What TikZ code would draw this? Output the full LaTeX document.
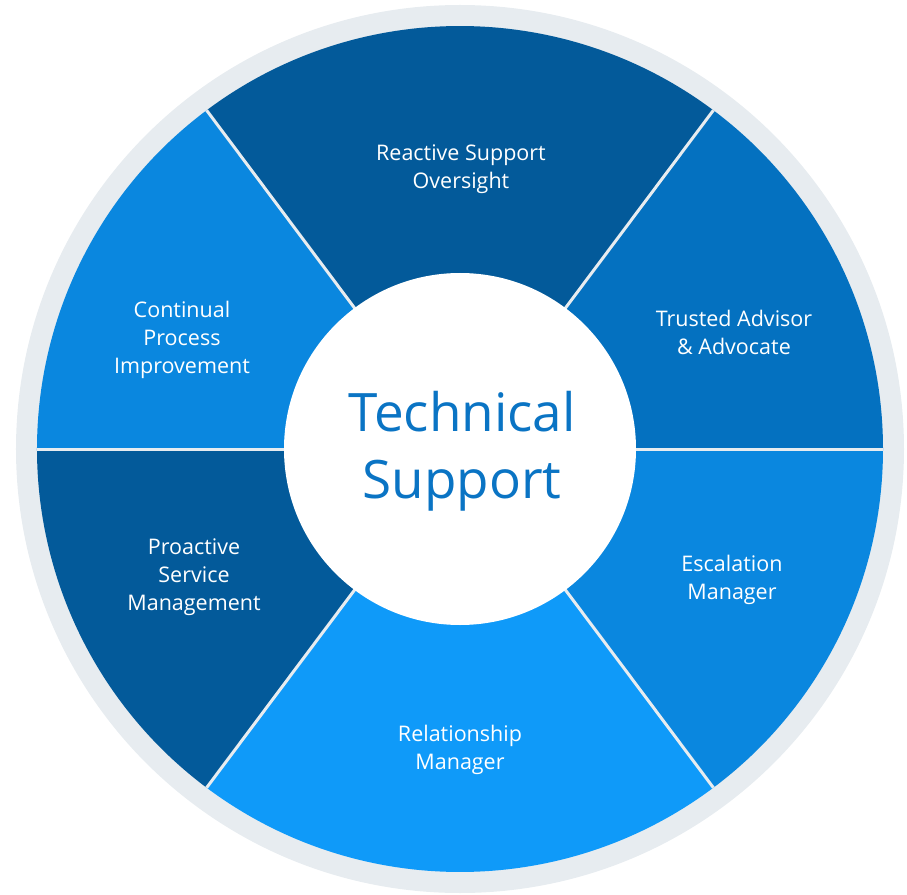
\documentclass[tikz,border=0pt]{standalone}
\usepackage{fontspec}
\setmainfont{Open Sans}
\usepackage{tikz}
\definecolor{ringgray}{RGB}{231,236,240}
\definecolor{darkblue}{RGB}{3,90,154}
\definecolor{midblue}{RGB}{4,113,192}
\definecolor{lightblue}{RGB}{10,135,223}
\definecolor{brightblue}{RGB}{15,154,249}
\definecolor{titleblue}{RGB}{10,116,196}
\tikzset{lbl/.style={text=white,align=center,font=\fontsize{21.5}{28}\selectfont},
divider/.style={draw=ringgray,line width=3pt}}

\begin{document}
\begin{tikzpicture}[x=1pt,y=1pt]
\useasboundingbox (-460,-445) rectangle (447,449);
%\draw [help lines] (-460,-445) grid (447,449);
\fill[ringgray] (0,0) circle (444);
\fill[midblue] (0,0) -- (0:423) arc[start angle=0,end angle=53.2,radius=423] -- cycle;
\fill[darkblue] (0,0) -- (53.2:423) arc[start angle=53.2,end angle=126.8,radius=423] -- cycle;
\fill[lightblue] (0,0) -- (126.8:423) arc[start angle=126.8,end angle=180,radius=423] -- cycle;
\fill[darkblue] (0,0) -- (180:423) arc[start angle=180,end angle=233.2,radius=423] -- cycle;
\fill[brightblue] (0,0) -- (233.2:423) arc[start angle=233.2,end angle=306.8,radius=423] -- cycle;
\fill[lightblue] (0,0) -- (306.8:423) arc[start angle=306.8,end angle=360,radius=423] -- cycle;
\foreach \a in {0,53.2,126.8,180,233.2,306.8} \draw[divider] (0,0) -- (\a:423);
\fill[white] (0,0) circle (176);
\node[text=titleblue,align=center,font=\fontsize{53}{67}\selectfont] (hub) at (2,-2) {Technical\\Support};
\node[lbl] (reactive) at (1,280) {Reactive Support\\Oversight};
\node[lbl] (trusted) at (274,117) {Trusted Advisor\\\& Advocate};
\node[lbl] (escalation) at (272,-131) {Escalation\\Manager};
\node[lbl] (relationship) at (0,-301) {Relationship\\Manager};
\node[lbl] (proactive) at (-266,-128) {Proactive\\Service\\Management};
\node[lbl] (continual) at (-278,109) {Continual\\Process\\Improvement};
\end{tikzpicture}
\end{document}
